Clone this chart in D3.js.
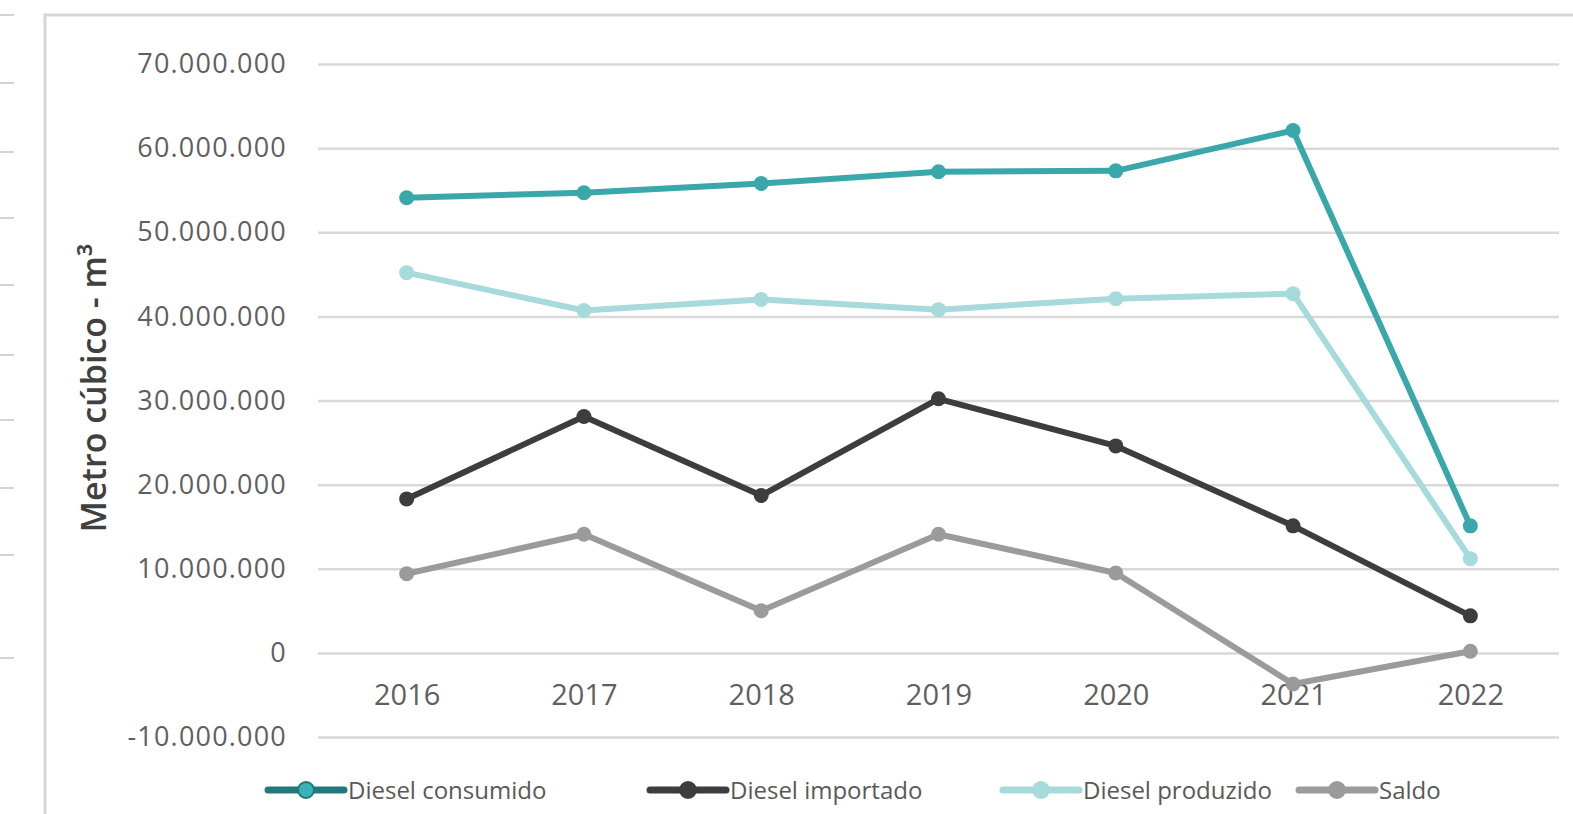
<!DOCTYPE html>
<html>
<head>
<meta charset="utf-8">
<script src="https://cdn.jsdelivr.net/npm/d3@7"></script>
<style>
  html, body { margin: 0; padding: 0; background: #ffffff; }
  svg { display: block; }
  text { font-family: "Open Sans", "Noto Sans", sans-serif; }
</style>
</head>
<body>
<svg id="chart" width="1573" height="814"></svg>
<script>
// Diesel balance, cubic metres per year
const years = ["2016", "2017", "2018", "2019", "2020", "2021", "2022"];
const consumido = [54100000, 54700000, 55800000, 57200000, 57300000, 62100000, 15100000];
const importado = [18300000, 28100000, 18700000, 30200000, 24600000, 15100000, 4400000];
const produzido = [45200000, 40700000, 42000000, 40800000, 42100000, 42700000, 11200000];
const saldo = [9400000, 14100000, 5000000, 14100000, 9500000, -3700000, 200000];
const seriesNames = ["Diesel consumido", "Diesel importado", "Diesel produzido", "Saldo"];
const yTicks = [-10000000, 0, 10000000, 20000000, 30000000, 40000000, 50000000, 60000000, 70000000];
// gridline stubs of the neighbouring panel, cut off at the left edge
const sidePanelRows = [15, 83, 152, 218, 285, 355, 420, 488, 555, 658];

const seriesValues = [consumido, importado, produzido, saldo];
const lineColors = ["#3aa8ab", "#3d3d3d", "#a7dada", "#9b9b9b"];
const legendLineColors = ["#23787a", "#3d3d3d", "#a7dada", "#9b9b9b"];
// left edge of each legend entry
const legendSlots = [268, 650, 1003, 1299];

const svg = d3.select("#chart");

// neighbouring panel stubs
svg.append("g").selectAll("line").data(sidePanelRows).join("line")
  .attr("x1", 0).attr("x2", 14)
  .attr("y1", d => d).attr("y2", d => d)
  .attr("stroke", "#d4d4d4").attr("stroke-width", 2);

// chart frame
svg.append("path")
  .attr("d", "M45,814 L45,15 L1573,15")
  .attr("fill", "none").attr("stroke", "#d6d6d6").attr("stroke-width", 3);

const plot = { left: 318, right: 1559, top: 64, bottom: 737 };

const x = d3.scalePoint().domain(years).range([plot.left, plot.right]).padding(0.5);
const y = d3.scaleLinear().domain([-10000000, 70000000]).range([plot.bottom, plot.top]);

const fmt = d3.formatLocale({ decimal: ",", thousands: ".", grouping: [3], currency: ["R$", ""], minus: "-" }).format(",d");

// horizontal gridlines + tick labels
const yAxis = d3.axisLeft(y).tickValues(yTicks).tickFormat(fmt)
  .tickSize(-(plot.right - plot.left)).tickPadding(31);
const gy = svg.append("g").attr("transform", `translate(${plot.left},0)`).call(yAxis);
gy.select(".domain").remove();
gy.selectAll(".tick line").attr("stroke", "#d9d9d9").attr("stroke-width", 2.5);
gy.selectAll(".tick text")
  .attr("fill", "#5f5f5f").attr("font-size", 27).attr("letter-spacing", "1.2px")
  .attr("font-family", "'Open Sans', sans-serif");

// year labels
const xAxis = d3.axisBottom(x).tickSize(0).tickPadding(0);
const gx = svg.append("g").attr("transform", `translate(0,${y(0)})`).call(xAxis);
gx.select(".domain").remove();
gx.selectAll(".tick text")
  .attr("fill", "#5f5f5f").attr("font-size", 29).attr("dy", 0).attr("y", 52)
  .attr("font-family", "'Open Sans', sans-serif");

// y axis title
svg.append("text")
  .attr("transform", "translate(106,388) rotate(-90)")
  .attr("text-anchor", "middle")
  .attr("font-size", 34).attr("font-weight", 600).attr("fill", "#404040")
  .text("Metro cúbico - m³");

// series lines and markers
const line = d3.line().x((d, i) => x(years[i])).y(d => y(d));
const gs = svg.append("g");
seriesValues.forEach((vals, k) => {
  const g = gs.append("g");
  g.append("path").datum(vals)
    .attr("d", line).attr("fill", "none")
    .attr("stroke", lineColors[k]).attr("stroke-width", 6)
    .attr("stroke-linejoin", "round");
  g.selectAll("circle").data(vals).join("circle")
    .attr("cx", (d, i) => x(years[i])).attr("cy", d => y(d))
    .attr("r", 7.5).attr("fill", lineColors[k]);
});

// legend
const legend = svg.append("g").attr("transform", "translate(0,790)");
seriesNames.forEach((name, k) => {
  const item = legend.append("g").attr("transform", `translate(${legendSlots[k]},0)`);
  item.append("line").attr("x1", 0).attr("x2", 76).attr("y1", 0).attr("y2", 0)
    .attr("stroke", legendLineColors[k]).attr("stroke-width", 7).attr("stroke-linecap", "round");
  item.append("circle").attr("cx", 38).attr("cy", 0).attr("r", 8)
    .attr("fill", k === 0 ? "#3ab3b6" : lineColors[k])
    .attr("stroke", legendLineColors[k]).attr("stroke-width", 2);
  item.append("text").attr("x", 80).attr("y", 9)
    .attr("font-size", 24).attr("fill", "#595959").text(name);
});
</script>
</body>
</html>
